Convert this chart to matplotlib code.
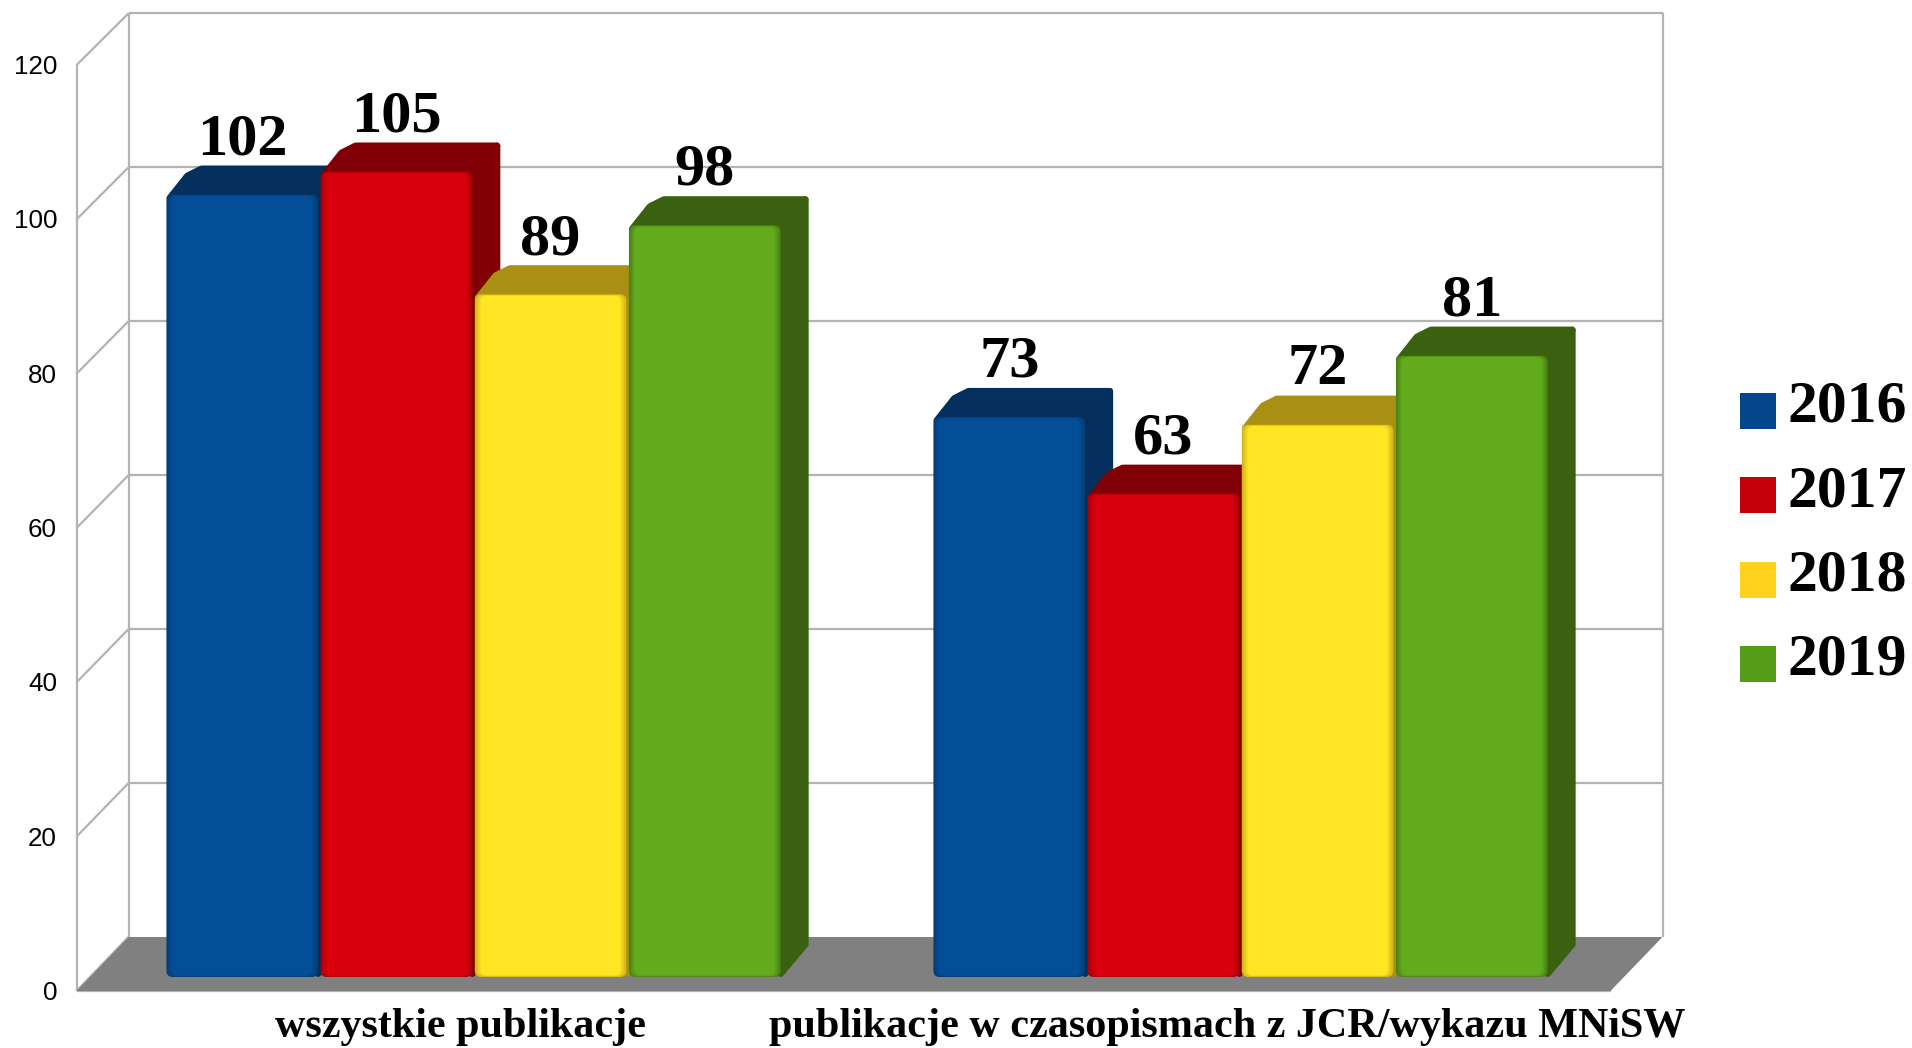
import numpy as np
from matplotlib import pyplot as plt
from matplotlib.patches import FancyBboxPatch, Polygon, Rectangle
from matplotlib.colors import to_rgb

categories = ["wszystkie publikacje", "publikacje w czasopismach z JCR/wykazu MNiSW"]
years = ["2016", "2017", "2018", "2019"]
v2016 = [102, 73]
v2017 = [105, 63]
v2018 = [89, 72]
v2019 = [98, 81]
series = [v2016, v2017, v2018, v2019]
yticks = [0, 20, 40, 60, 80, 100, 120]

face = ["#034e97", "#d8000d", "#ffe522", "#62ab1d"]
dark = ["#052f5c", "#800005", "#a98f14", "#39610f"]
legend_col = ["#03478a", "#c4000b", "#ffd21f", "#559c17"]

W, H = 1912, 1048
# pixel layout of the 3d box
X0, XU = 460.0, 767.0   # pixel of category 0, pixels per category
Y0, YU = 991.0, 7.716   # pixel of value 0, pixels per value
DX, DY = 52 / XU, 54 / YU  # box depth in data units
SLOT = 0.201
GAP = 2.5 / XU
D_FRONT, D_BACK = 0.26, 0.80
BAR_SCALE = 0.994
BACK_SCALE = 0.9975  # back wall is a touch shorter

fig = plt.figure(figsize=(W / 100, H / 100), dpi=100)
ax = fig.add_axes([0, 0, 1, 1])
ax.set_xlim(-X0 / XU, (W - X0) / XU)
ax.set_ylim((Y0 - H) / YU, Y0 / YU)
ax.axis("off")

x_left, x_right = -0.5, 1.5
grid = dict(color="#b3b3b3", lw=1.6, solid_capstyle="butt", zorder=1)

# floor
ax.add_patch(Polygon([(x_left, 0), (x_left + DX, DY), (x_right + DX, DY), (x_right, 0)],
                     closed=True, fc="#808080", ec="none", zorder=2))
ax.plot([x_left, x_right], [0, 0], **grid)

# walls
for t in yticks:
    tb = t * BACK_SCALE + DY
    if t > 0:
        ax.plot([x_left + DX, x_right + DX], [tb, tb], **grid)
    ax.plot([x_left, x_left + DX], [t, tb], **grid)
    ax.text(-X0 / XU + 57 / XU, t - 2 / YU, str(t), ha="right", va="center",
            family="Liberation Sans", fontsize=18.7, color="black")
tb = 120 * BACK_SCALE + DY
ax.plot([x_left, x_left], [0, 120], **grid)
ax.plot([x_left + DX, x_left + DX], [DY, tb], **grid)
ax.plot([x_right + DX, x_right + DX], [DY, tb], **grid)


def soft_face(x, y, w, h, col, edge, z):
    # front of a bar, shaded mostly on the left and right borders
    c1, c2 = np.array(to_rgb(edge)), np.array(to_rgb(col))
    steps = 6
    for i in range(steps):
        ix, iy = i * 1.2 / XU, i * 0.3 / YU
        c = c1 + (c2 - c1) * (0.45 + 0.55 * i / (steps - 1))
        ax.add_patch(FancyBboxPatch((x + ix, y + iy), w - 2 * ix, h - 2 * iy,
                                    boxstyle="round,pad=0,rounding_size=0.008",
                                    mutation_aspect=XU / YU,
                                    fc=c, ec="none", zorder=z))


z = 3
rx, ry = 3.5 / XU, 3.5 / YU  # inset taken back by the round outline
for i, vals in enumerate(series):
    for c, v in enumerate(vals):
        h = v * BAR_SCALE
        w = SLOT - GAP
        x = c - 2 * SLOT + i * SLOT + D_FRONT * DX + GAP / 2
        y0 = D_FRONT * DY
        bx, by = (D_BACK - D_FRONT) * DX, (D_BACK - D_FRONT) * DY
        top = [(x + rx, y0 + h - ry),
               (x + bx - 2 * rx, y0 + h + by - 3 * ry),
               (x + bx + 2 * rx, y0 + h + by - ry),
               (x + w + bx - rx, y0 + h + by - ry),
               (x + w - rx, y0 + h - ry)]
        side = [(x + w, y0 + h - ry), (x + w + bx - rx, y0 + h + by - ry),
                (x + w + bx - rx, y0 + by + ry), (x + w, y0 + ry)]
        ax.add_patch(Polygon(side, closed=True, fc=dark[i], ec=dark[i], lw=5, joinstyle="round", zorder=z))
        ax.add_patch(Polygon(top, closed=True, fc=dark[i], ec=dark[i], lw=5, joinstyle="round", zorder=z))
        soft_face(x, y0, w, h, face[i], dark[i], z + 0.5)
        ax.text(x + w / 2, y0 + h + by + 1.45, str(v), ha="center", va="baseline",
                family="Liberation Serif", weight="bold", fontsize=43.5, color="black", zorder=20)
    z += 1

for c, name in enumerate(categories):
    ax.text(c, (Y0 - 1037) / YU, name, ha="center", va="baseline",
            family="Liberation Serif", weight="bold", fontsize=30.3, color="black")

# legend
for i, yr in enumerate(years):
    yp = 393 + i * 84.3
    fig.add_artist(Rectangle((1740 / W, 1 - (yp + 36) / H), 36 / W, 36 / H,
                             transform=fig.transFigure, fc=legend_col[i], ec="none"))
    fig.text(1787 / W, 1 - (yp + 29) / H, yr, ha="left", va="baseline",
             family="Liberation Serif", weight="bold", fontsize=43, color="black")

fig.savefig("out.png", dpi=100)
